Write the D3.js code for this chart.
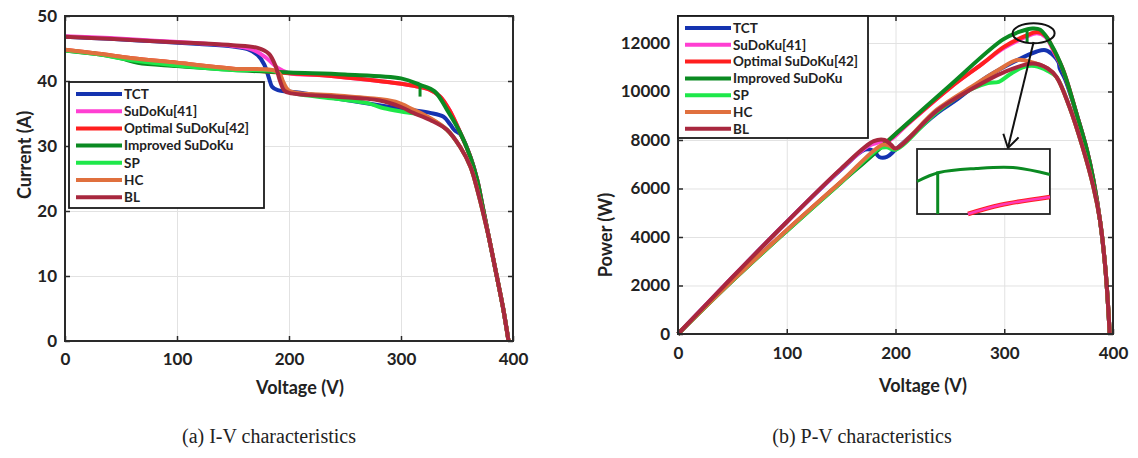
<!DOCTYPE html>
<html>
<head>
<meta charset="utf-8">
<script src="https://d3js.org/d3.v7.min.js"></script>
<style>
  body { margin: 0; background: #fff; }
  svg { display: block; }
</style>
</head>
<body>
<div id="chart"></div>
<script>
// series names + colours
let seriesNames = ['TCT', 'SuDoKu[41]', 'Optimal SuDoKu[42]', 'Improved SuDoKu', 'SP', 'HC', 'BL']
let seriesColors = ['#1533b0', '#ff3fd2', '#ff1f1f', '#0b8a22', '#1ee84a', '#e0703e', '#a8283e']

let voltageTicks = [0, 100, 200, 300, 400]
let currentTicks = [0, 10, 20, 30, 40, 50]
let powerTicks = [0, 2000, 4000, 6000, 8000, 10000, 12000]

// I-V curves [voltage, current]
let ivTCT = [[0,46.8],[40,46.5],[80,46.1],[120,45.7],[150,45.3],[163,44.9],[172,44],[178,42.5],[182,40.5],[185,39.1],[190,38.6],[210,38.2],[240,37.4],[265,36.7],[290,36],[310,35.5],[326,35.1],[338,34.5],[344,33.3],[348,32.4],[353,31.8],[362,28.3],[368,24.8],[373,20.6],[379,15.5],[385,10.4],[391,5.2],[396,0]]
let ivSudoku = [[0,46.9],[40,46.6],[80,46.2],[120,45.8],[150,45.4],[168,44.8],[180,43.5],[190,42],[200,41.2],[230,40.9],[260,40.4],[290,39.8],[310,39.3],[325,38.7],[335,37.6],[343,35.6],[353,32],[362,28.3],[368,24.8],[373,20.6],[379,15.5],[385,10.4],[391,5.2],[396,0]]
let ivOptimal = [[0,44.8],[30,44.2],[60,43.5],[100,42.8],[150,41.9],[200,41.2],[230,40.9],[260,40.4],[290,39.8],[310,39.3],[325,38.7],[335,37.6],[343,35.6],[353,32],[362,28.3],[368,24.8],[373,20.6],[379,15.5],[385,10.4],[391,5.2],[396,0]]
let ivImproved = [[0,44.7],[30,44.1],[50,43.5],[65,42.8],[100,42.3],[150,41.7],[200,41.3],[250,41],[300,40.4],[317,39.4],[330,38.4],[341,35.6],[353,32],[362,28.3],[368,24.8],[373,20.6],[379,15.5],[385,10.4],[391,5.2],[396,0]]
let ivSP = [[0,44.7],[30,44.1],[60,43.2],[100,42.4],[150,41.7],[190,41.3],[194,40],[198,38.6],[205,38.1],[240,37.3],[270,36.6],[285,35.8],[300,35.3],[315,34.9],[326,34.2],[341,32.5],[353,29.8],[362,26.8],[369,22.7],[375,18.5],[379,15.5],[385,10.4],[391,5.2],[396,0]]
let ivHC = [[0,44.8],[30,44.2],[60,43.5],[100,42.8],[150,41.9],[190,41.4],[195,39.8],[200,38.5],[240,37.8],[270,37.4],[295,36.8],[311,35.6],[326,34.3],[341,32.5],[353,29.8],[362,26.8],[369,22.7],[375,18.5],[379,15.5],[385,10.4],[391,5.2],[396,0]]
let ivBL = [[0,46.8],[40,46.5],[80,46.1],[120,45.8],[150,45.5],[172,45.1],[182,44.2],[188,42.3],[192,40],[196,38.5],[202,38.1],[240,37.6],[281,37],[300,36],[311,35.1],[326,34],[341,32.5],[353,29.8],[362,26.8],[369,22.7],[375,18.5],[379,15.5],[385,10.4],[391,5.2],[396,0]]
let ivImprovedSpike = [[317,39.4],[317,37.6]]

// P-V curves [voltage, power]
let pvTCT = [[0,0],[50,2330],[100,4620],[150,6780],[172,7600],[180,7550],[185,7300],[192,7300],[200,7600],[238,9100],[256,9650],[284,10600],[310,11250],[330,11650],[338,11700],[346,11450],[350,11200],[351,10950],[356,10500],[367,9000],[376,7590],[382,6350],[388,4700],[393,2700],[397,0]]
let pvSudoku = [[0,0],[50,2340],[100,4620],[150,6800],[175,7750],[185,7900],[195,8000],[210,8600],[250,10150],[280,11150],[300,11800],[320,12250],[330,12400],[338,12250],[345,11700],[354,10900],[367,9000],[376,7590],[382,6350],[388,4700],[393,2700],[397,0]]
let pvOptimal = [[0,0],[50,2200],[100,4280],[150,6280],[200,8240],[250,10150],[280,11150],[300,11850],[320,12300],[330,12450],[338,12300],[345,11750],[354,10900],[367,9000],[376,7590],[382,6350],[388,4700],[393,2700],[397,0]]
let pvImproved = [[0,0],[50,2190],[100,4250],[150,6250],[177,7300],[200,8250],[250,10250],[299,12150],[315,12480],[326,12600],[333,12550],[343,11950],[354,10900],[367,9000],[376,7590],[382,6350],[388,4700],[393,2700],[397,0]]
let pvSP = [[0,0],[50,2190],[100,4250],[150,6250],[185,7650],[192,7700],[200,7600],[238,9150],[270,10100],[285,10350],[295,10400],[305,10700],[317,11000],[328,11050],[340,10850],[348,10600],[360,9360],[372,7710],[382,6060],[388,4700],[393,2700],[397,0]]
let pvHC = [[0,0],[50,2200],[100,4280],[150,6280],[188,7800],[195,7750],[200,7650],[238,9250],[270,10200],[295,10900],[312,11300],[326,11200],[340,10950],[348,10600],[360,9360],[372,7710],[382,6060],[388,4700],[393,2700],[397,0]]
let pvBL = [[0,0],[50,2340],[100,4620],[150,6820],[180,7950],[190,8000],[196,7800],[200,7650],[238,9200],[270,10100],[300,10800],[326,11150],[340,10950],[348,10600],[360,9360],[372,7710],[382,6060],[388,4700],[393,2700],[397,0]]
let pvImprovedSpike = [[321,12540],[321,12000]]

// zoomed inset of the P-V peak
let insetGreen = [[318,12450],[321,12505],[326,12530],[331,12536],[336,12493]]
let insetSpike = [[320.8,12512],[320.8,12250]]
let insetPink = [[324.9,12250],[329.3,12305],[336,12355]]

let width = 1138
let height = 458

let svg = d3
  .select('#chart')
  .append('svg')
  .attr('width', width)
  .attr('height', height)

function drawPanel(p) {
  let x = d3.scaleLinear().domain([0, 400]).range([p.left, p.right])
  let y = d3.scaleLinear().domain(p.yDomain).range([p.bottom, p.top])
  let g = svg.append('g')
  let plotW = p.right - p.left
  let plotH = p.bottom - p.top

  // grid
  g.append('g')
    .attr('class', 'grid')
    .attr('transform', 'translate(0,' + p.bottom + ')')
    .call(d3.axisBottom(x).tickValues(voltageTicks).tickSize(-plotH).tickFormat(''))
  g.append('g')
    .attr('class', 'grid')
    .attr('transform', 'translate(' + p.left + ',0)')
    .call(d3.axisLeft(y).tickValues(p.yTicks).tickSize(-plotW).tickFormat(''))
  g.selectAll('.grid .domain').remove()
  g.selectAll('.grid line').attr('stroke', '#e2e2e2').attr('stroke-width', 1)

  let line = d3
    .line()
    .x(d => x(d[0]))
    .y(d => y(d[1]))
    .curve(d3.curveCatmullRom.alpha(0.5))

  g.selectAll('.curve')
    .data(p.series)
    .enter()
    .append('path')
    .attr('class', 'curve')
    .attr('d', d => line(d))
    .attr('fill', 'none')
    .attr('stroke', (d, i) => seriesColors[i])
    .attr('stroke-width', 4)
    .attr('stroke-linejoin', 'round')

  g.append('path')
    .attr('d', d3.line().x(d => x(d[0])).y(d => y(d[1]))(p.spike))
    .attr('stroke', seriesColors[3])
    .attr('stroke-width', 3)

  // frame
  g.append('rect')
    .attr('x', p.left)
    .attr('y', p.top)
    .attr('width', plotW)
    .attr('height', plotH)
    .attr('fill', 'none')
    .attr('stroke', '#2a2a2a')
    .attr('stroke-width', 2)

  // inward ticks on every side
  g.append('g')
    .attr('class', 'axis')
    .attr('transform', 'translate(0,' + p.bottom + ')')
    .call(d3.axisBottom(x).tickValues(voltageTicks).tickSize(-5).tickSizeOuter(0).tickPadding(p.xPad))
  g.append('g')
    .attr('class', 'axis')
    .attr('transform', 'translate(' + p.left + ',0)')
    .call(d3.axisLeft(y).tickValues(p.yTicks).tickSize(-5).tickSizeOuter(0).tickPadding(8).tickFormat(d3.format('d')))
  g.append('g')
    .attr('class', 'axis')
    .attr('transform', 'translate(0,' + p.top + ')')
    .call(d3.axisTop(x).tickValues(voltageTicks).tickSize(-5).tickSizeOuter(0).tickFormat(''))
  g.append('g')
    .attr('class', 'axis')
    .attr('transform', 'translate(' + p.right + ',0)')
    .call(d3.axisRight(y).tickValues(p.yTicks).tickSize(-5).tickSizeOuter(0).tickFormat(''))
  g.selectAll('.axis .domain').remove()
  g.selectAll('.axis .tick line').attr('stroke', '#2a2a2a').attr('stroke-width', 1.5)
  g.selectAll('.axis .tick text')
    .attr('font-size', 17)
    .attr('font-weight', 700)
    .style('font-family', 'Lato, sans-serif')
    .attr('fill', '#222')

  // axis titles
  g.append('text')
    .attr('x', p.xLabelX)
    .attr('y', p.xLabelY)
    .attr('text-anchor', 'middle')
    .style('font-family', 'Lato, sans-serif')
    .attr('font-size', 18)
    .attr('font-weight', 700)
    .attr('fill', '#222')
    .text('Voltage (V)')
  g.append('text')
    .attr('transform', 'translate(' + p.yLabelX + ',' + p.yLabelY + ') rotate(-90)')
    .attr('text-anchor', 'middle')
    .style('font-family', 'Lato, sans-serif')
    .attr('font-size', 18)
    .attr('font-weight', 700)
    .attr('fill', '#222')
    .text(p.yLabel)

  // legend
  let lg = g.append('g')
  lg.append('rect')
    .attr('x', p.legend.x)
    .attr('y', p.legend.y)
    .attr('width', p.legend.w)
    .attr('height', p.legend.h)
    .attr('fill', '#fff')
    .attr('stroke', '#1a1a1a')
    .attr('stroke-width', 1.8)
  let items = lg.selectAll('.item')
    .data(seriesNames)
    .enter()
    .append('g')
    .attr('class', 'item')
    .attr('transform', (d, i) => 'translate(0,' + (p.legend.y + 12 + i * p.legend.step) + ')')
  items.append('line')
    .attr('x1', p.legend.x + 7)
    .attr('x2', p.legend.x + 53)
    .attr('stroke', (d, i) => seriesColors[i])
    .attr('stroke-width', 4)
  items.append('text')
    .attr('x', p.legend.x + 55)
    .attr('dy', '0.36em')
    .style('font-family', 'Lato, sans-serif')
    .attr('font-size', 13.5)
    .attr('font-weight', 700)
    .attr('fill', '#222')
    .text(d => d)

  // caption
  svg.append('text')
    .attr('x', p.captionX)
    .attr('y', 443)
    .attr('text-anchor', 'middle')
    .style('font-family', "'Liberation Serif', 'DejaVu Serif', serif")
    .attr('font-size', 20)
    .attr('fill', '#222')
    .text(p.caption)

  return { g: g, x: x, y: y }
}

drawPanel({
  left: 65, right: 513, top: 16, bottom: 341,
  yDomain: [0, 50], yTicks: currentTicks,
  series: [ivTCT, ivSudoku, ivOptimal, ivImproved, ivSP, ivHC, ivBL],
  spike: ivImprovedSpike,
  xPad: 12, xLabelX: 300, xLabelY: 394,
  yLabel: 'Current (A)', yLabelX: 31, yLabelY: 155,
  legend: { x: 69, y: 82, w: 195, h: 126, step: 17.2 },
  caption: '(a) I-V characteristics', captionX: 269
})

let pv = drawPanel({
  left: 678, right: 1113, top: 16, bottom: 334,
  yDomain: [0, 13113], yTicks: powerTicks,
  series: [pvTCT, pvSudoku, pvOptimal, pvImproved, pvSP, pvHC, pvBL],
  spike: pvImprovedSpike,
  xPad: 13, xLabelX: 923, xLabelY: 392,
  yLabel: 'Power (W)', yLabelX: 612, yLabelY: 235,
  legend: { x: 678, y: 16, w: 190, h: 122, step: 16.8 },
  caption: '(b) P-V characteristics', captionX: 862
})

// peak annotation + inset
let px = pv.x
let py = pv.y
pv.g.append('ellipse')
  .attr('cx', px(327))
  .attr('cy', py(12400))
  .attr('rx', 21)
  .attr('ry', 10)
  .attr('fill', 'none')
  .attr('stroke', '#111')
  .attr('stroke-width', 2)

let arrowFrom = [327, 12041]
let arrowTo = [303.4, 7670]
let ax0 = px(arrowFrom[0]), ay0 = py(arrowFrom[1])
let ax1 = px(arrowTo[0]), ay1 = py(arrowTo[1])
let ang = Math.atan2(ay1 - ay0, ax1 - ax0)
pv.g.append('line')
  .attr('x1', ax0).attr('y1', ay0)
  .attr('x2', ax1).attr('y2', ay1)
  .attr('stroke', '#111')
  .attr('stroke-width', 2)
pv.g.append('path')
  .attr('d', 'M' + (ax1 - 15 * Math.cos(ang - 0.55)) + ',' + (ay1 - 15 * Math.sin(ang - 0.55)) +
    'L' + ax1 + ',' + ay1 +
    'L' + (ax1 - 15 * Math.cos(ang + 0.55)) + ',' + (ay1 - 15 * Math.sin(ang + 0.55)))
  .attr('fill', 'none')
  .attr('stroke', '#111')
  .attr('stroke-width', 2)

let insetBox = { v0: 219.8, v1: 342, p0: 4948, p1: 7629 }
let ix = d3.scaleLinear().domain([318, 336]).range([px(insetBox.v0), px(insetBox.v1)])
let iy = d3.scaleLinear().domain([12250, 12650]).range([py(insetBox.p0), py(insetBox.p1)])
let inset = pv.g.append('g')
inset.append('rect')
  .attr('x', px(insetBox.v0))
  .attr('y', py(insetBox.p1))
  .attr('width', px(insetBox.v1) - px(insetBox.v0))
  .attr('height', py(insetBox.p0) - py(insetBox.p1))
  .attr('fill', '#fff')
  .attr('stroke', '#222')
  .attr('stroke-width', 1.8)
let insetLine = d3.line().x(d => ix(d[0])).y(d => iy(d[1])).curve(d3.curveCatmullRom.alpha(0.5))
inset.append('path')
  .attr('d', insetLine(insetGreen))
  .attr('fill', 'none')
  .attr('stroke', seriesColors[3])
  .attr('stroke-width', 3)
inset.append('path')
  .attr('d', insetLine(insetSpike))
  .attr('fill', 'none')
  .attr('stroke', seriesColors[3])
  .attr('stroke-width', 3)
inset.append('path')
  .attr('d', insetLine(insetPink))
  .attr('fill', 'none')
  .attr('stroke', seriesColors[2])
  .attr('stroke-width', 4.5)
inset.append('path')
  .attr('d', insetLine(insetPink))
  .attr('fill', 'none')
  .attr('stroke', seriesColors[1])
  .attr('stroke-width', 2.5)
  .attr('opacity', 0.85)
</script>
</body>
</html>
